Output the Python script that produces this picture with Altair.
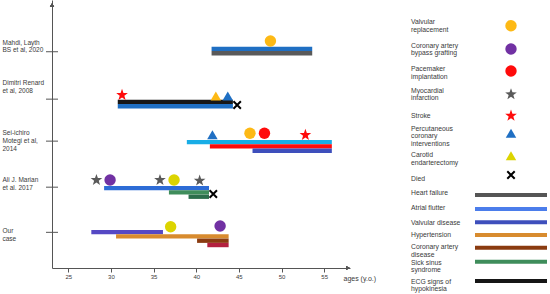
import altair as alt
import pandas as pd

# ---------------- data ----------------
row_lines = [["Mahdi, Layth", "BS et al, 2020"],
             ["Dimitri Renard", "et al, 2008"],
             ["Sei-ichiro", "Motegi et al,", "2014"],
             ["Ali J. Marian", "et al. 2017"],
             ["Our", "case"]]
row_pos = [4.79, 3.74, 2.81, 1.79, 0.79]

# bars (disease periods)
bar_start = [41.8, 41.8, 30.8, 30.8, 38.9, 41.6, 46.6, 29.2, 36.8, 39.1, 27.7, 30.6, 40.1, 41.3]
bar_end = [53.6, 53.6, 44.3, 44.3, 55.9, 55.9, 55.9, 41.5, 41.5, 41.5, 36.1, 43.8, 43.8, 43.8]
bar_y = [4.852, 4.756, 3.678, 3.583, 2.787, 2.692, 2.597, 1.769, 1.673, 1.578, 0.794, 0.699, 0.604, 0.508]
bar_key = ["blue", "gray", "black", "blue", "cyan", "red", "indigo", "royal", "green", "darkgreen",
           "violet", "orange", "brown", "crimson"]

# events
circle_age = [48.7, 46.3, 48.0, 29.9, 37.4, 37.0, 42.8]
circle_y = [5.028, 2.983, 2.983, 1.949, 1.949, 0.915, 0.930]
circle_key = ["gold", "gold", "red", "purple", "lime", "lime", "purple"]

star_age = [31.3, 52.8, 28.3, 35.75, 40.4]
star_y = [3.832, 2.946, 1.949, 1.949, 1.935]
star_key = ["red", "red", "gray", "gray", "gray"]

tri_age = [42.3, 43.7, 41.9]
tri_y = [3.81, 3.81, 2.952]
tri_key = ["gold", "blue", "blue"]

died_age = [44.8, 42.0]
died_y = [3.610, 1.639]

# legend
legend_event_lines = [["Valvular", "replacement"], ["Coronary artery", "bypass grafting"],
                      ["Pacemaker", "implantation"], ["Myocardial", "infarction"], ["Stroke"],
                      ["Percutaneous", "coronary", "interventions"], ["Carotid", "endarterectomy"],
                      ["Died"]]
legend_event_text_y = [22, 45.7, 69, 90.7, 116.3, 128.7, 155, 179]
legend_event_sym_y = [25.7, 49, 71, 94.3, 115.7, 133.3, 155.7, 175]
legend_event_shape = ["circle", "circle", "circle", "star", "star", "triangle", "triangle", "died"]
legend_event_key = ["gold", "purple", "red", "gray", "red", "blue", "lime", "black"]

legend_cond_lines = [["Heart failure"], ["Atrial flutter"], ["Valvular disease"], ["Hypertension"],
                     ["Coronary artery", "disease"], ["Sick sinus", "syndrome"],
                     ["ECG signs of", "hypokinesia"]]
legend_cond_text_y = [193.3, 208.3, 222.7, 235, 247.3, 262.7, 281.7]
legend_cond_line_y = [195, 209, 222.3, 235, 247.7, 261.7, 281]
legend_cond_key = ["lgray", "lblue", "indigo", "orange", "brown", "green", "black"]

# ---------------- styles ----------------
palette = {
    "blue": "#1f6fc3", "gray": "#5a5a5a", "black": "#161616", "cyan": "#19ade6",
    "red": "#ff0b0b", "indigo": "#3e4fbc", "royal": "#2d6cd6", "green": "#3f8d5b",
    "darkgreen": "#2c6e4c", "violet": "#5548c4", "orange": "#d88b2e", "brown": "#8a3b10",
    "crimson": "#b3203f", "gold": "#fdb915", "purple": "#7131a3", "lime": "#dcd400",
    "lgray": "#555555", "lblue": "#4b7deb",
}
LINE_H = 7.7
# vertical shift (px) of each label block centre relative to its tick
label_shift = [-5.7, -12.3, -0.8, -4.0, 2.2]
# multi-line labels are anchored at their first line, so move them up by half the block
label_first_line = [s - (len(l) - 1) * LINE_H / 2 for s, l in zip(label_shift, row_lines)]

STAR = ("M0,-1L0.235,-0.324L0.951,-0.309L0.38,0.124L0.588,0.809L0,0.4L-0.588,0.809"
        "L-0.38,0.124L-0.951,-0.309L-0.235,-0.324Z")
CROSS = "M-1,-1L1,1M-1,1L1,-1"
FONT = "Liberation Sans"
AXC = "#555555"
TXT = "#3a3a3a"

X_DOMAIN = [23.09, 58.03]
Y_DOMAIN = [0, 5.936]
W, H = 298, 268

bars = pd.DataFrame({"start": bar_start, "end": bar_end, "y": bar_y,
                     "col": [palette[k] for k in bar_key]})
circles = pd.DataFrame({"age": circle_age, "y": circle_y, "col": [palette[k] for k in circle_key]})
stars = pd.DataFrame({"age": star_age, "y": star_y, "col": [palette[k] for k in star_key]})
tris = pd.DataFrame({"age": tri_age, "y": tri_y, "col": [palette[k] for k in tri_key]})
died = pd.DataFrame({"age": died_age, "y": died_y})
rows = pd.DataFrame({"y": row_pos})


def js_arr(lines):
    return "[" + ",".join("'" + l + "'" for l in lines) + "]"


label_expr = ""
for p, lines in zip(row_pos, row_lines):
    label_expr += f"abs(datum.value - {p}) < 0.05 ? {js_arr(lines)} : "
label_expr += "''"
offset_cond = {"condition": [{"test": f"abs(datum.value - {p}) < 0.05", "value": s}
                             for p, s in zip(row_pos, label_first_line)], "value": 0}

xscale = alt.Scale(domain=X_DOMAIN, nice=False, zero=False)
yscale = alt.Scale(domain=Y_DOMAIN, nice=False, zero=False)

x_axis = alt.Axis(values=[25, 30, 35, 40, 45, 50, 55], title="ages (y.o.)", grid=False,
                  domainColor=AXC, tickColor=AXC, tickSize=4, labelFontSize=6, labelColor=TXT,
                  labelPadding=1, labelFont=FONT, titleFont=FONT, titleFontSize=7,
                  titleFontWeight="normal", titleColor=TXT, titleX=291, titleY=10,
                  titleAlign="left", titleBaseline="middle", titleAnchor="start")
y_axis = alt.Axis(values=row_pos, title=None, grid=False, ticks=False, tickSize=0,
                  domainColor=AXC, labelExpr=label_expr, labelAlign="left",
                  labelBaseline="middle", labelPadding=50, labelFontSize=6.5,
                  labelLineHeight=LINE_H, labelColor=TXT, labelFont=FONT, labelOffset=offset_cond)

bar_layer = alt.Chart(bars).mark_rule(strokeWidth=4.3, strokeCap="butt").encode(
    x=alt.X("start:Q", scale=xscale, axis=x_axis),
    x2="end:Q",
    y=alt.Y("y:Q", scale=yscale, axis=y_axis),
    color=alt.Color("col:N", scale=None),
)

row_ticks = alt.Chart(rows).mark_rule(color=AXC, strokeWidth=1).encode(
    y=alt.Y("y:Q", scale=yscale), x=alt.value(-6), x2=alt.value(6))

circ_layer = alt.Chart(circles).mark_point(shape="circle", filled=True, opacity=1, size=130).encode(
    x=alt.X("age:Q", scale=xscale), y=alt.Y("y:Q", scale=yscale),
    color=alt.Color("col:N", scale=None))
star_layer = alt.Chart(stars).mark_point(shape=STAR, filled=True, opacity=1, size=150).encode(
    x=alt.X("age:Q", scale=xscale), y=alt.Y("y:Q", scale=yscale),
    color=alt.Color("col:N", scale=None))
tri_layer = alt.Chart(tris).mark_point(shape="triangle-up", filled=True, opacity=1, size=110).encode(
    x=alt.X("age:Q", scale=xscale), y=alt.Y("y:Q", scale=yscale),
    color=alt.Color("col:N", scale=None))
died_layer = alt.Chart(died).mark_point(shape=CROSS, filled=False, opacity=1, size=55,
                                        strokeWidth=2, color="#000000").encode(
    x=alt.X("age:Q", scale=xscale), y=alt.Y("y:Q", scale=yscale))

arrow_up = alt.Chart(rows).mark_point(shape="triangle-up", filled=True, opacity=1, size=18,
                                      color=AXC).encode(x=alt.value(0), y=alt.value(5))
arrow_right = alt.Chart(rows).mark_point(shape="triangle-right", filled=True, opacity=1, size=18,
                                         color=AXC).encode(x=alt.value(W - 2), y=alt.value(H))

main = alt.layer(bar_layer, row_ticks, circ_layer, star_layer, tri_layer, died_layer,
                 arrow_up, arrow_right).properties(width=W, height=H)

# ---------------- legend panel ----------------
LW, LH = 150, 294
lscale = alt.Scale(domain=[0, LH], reverse=True, nice=False, zero=False)

leg_text = pd.DataFrame({
    "label": ["\n".join(l) for l in legend_event_lines + legend_cond_lines],
    "y": legend_event_text_y + legend_cond_text_y})
leg_sym = pd.DataFrame({"y": legend_event_sym_y, "shape": legend_event_shape,
                        "col": [palette[k] for k in legend_event_key]})
leg_line = pd.DataFrame({"y": legend_cond_line_y, "col": [palette[k] for k in legend_cond_key]})

ly = alt.Y("y:Q", scale=lscale, axis=None)
lt = alt.Chart(leg_text).mark_text(align="left", baseline="middle", lineBreak="\n", fontSize=6.8,
                                   lineHeight=LINE_H, font=FONT, color=TXT).encode(
    x=alt.value(11), y=ly, text="label:N")
lc = alt.Chart(leg_sym).transform_filter("datum.shape == 'circle'").mark_point(
    shape="circle", filled=True, opacity=1, size=130).encode(
    x=alt.value(111), y=ly, color=alt.Color("col:N", scale=None))
ls = alt.Chart(leg_sym).transform_filter("datum.shape == 'star'").mark_point(
    shape=STAR, filled=True, opacity=1, size=150).encode(
    x=alt.value(111), y=ly, color=alt.Color("col:N", scale=None))
ltr = alt.Chart(leg_sym).transform_filter("datum.shape == 'triangle'").mark_point(
    shape="triangle-up", filled=True, opacity=1, size=110).encode(
    x=alt.value(111), y=ly, color=alt.Color("col:N", scale=None))
ld = alt.Chart(leg_sym).transform_filter("datum.shape == 'died'").mark_point(
    shape=CROSS, filled=False, opacity=1, size=55, strokeWidth=2, color="#000000").encode(
    x=alt.value(111), y=ly)
ll = alt.Chart(leg_line).mark_rule(strokeWidth=4, strokeCap="butt").encode(
    x=alt.value(75), x2=alt.value(147), y=ly, color=alt.Color("col:N", scale=None))

legend = alt.layer(lt, lc, ls, ltr, ld, ll).properties(width=LW, height=LH)

chart = alt.hconcat(main, legend, spacing=50, bounds="flush").properties(
    padding={"left": 2, "top": 0, "right": 0, "bottom": 0},
    autosize=alt.AutoSizeParams(type="pad"),
).configure(font=FONT).configure_view(strokeWidth=0, stroke="transparent")

chart.save("out.html", embed_options={"renderer": "svg", "actions": False})
